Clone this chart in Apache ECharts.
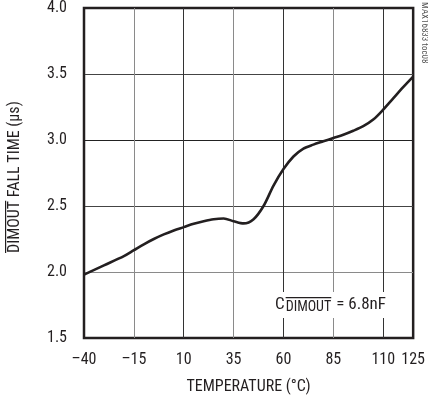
<!DOCTYPE html>
<html>
<head>
<meta charset="utf-8">
<script src="https://cdn.jsdelivr.net/npm/echarts@6/dist/echarts.min.js"></script>
<style>
html, body { margin: 0; padding: 0; background: #fff; }
#chart { width: 428px; height: 402px; }
</style>
</head>
<body>
<div id="chart"></div>
<script>
// DIMOUT fall time vs temperature
var temperature = [-40, -30, -20, -15, -10, -5, 0, 5, 10, 15, 20, 25, 30, 35, 40, 45, 50, 55, 60, 65, 70, 75, 80, 85, 90, 95, 100, 105, 110, 115, 120, 125];
var fallTimeUs = [1.98, 2.05, 2.12, 2.165, 2.21, 2.25, 2.285, 2.315, 2.34, 2.365, 2.385, 2.40, 2.405, 2.385, 2.368, 2.40, 2.50, 2.655, 2.78, 2.875, 2.935, 2.965, 2.99, 3.015, 3.04, 3.07, 3.105, 3.155, 3.23, 3.315, 3.40, 3.48];

var xColors = ['#231f20', '#8a8a8a', '#333', '#8a8a8a', '#333', '#8a8a8a', '#333', '#231f20'];
var yColors = ['#231f20', '#8a8a8a', '#444', '#222', '#444', '#231f20'];

var FONT = "'Liberation Sans Narrow', 'Roboto Condensed', 'Liberation Sans', sans-serif";
var INK = '#231f20';

function textWidth(str, size){
	var ctx = document.createElement('canvas').getContext('2d');
	ctx.font = size + 'px ' + FONT;
	return ctx.measureText(str).width;
}

var line = [];
for(var i = 0; i < temperature.length; i++){
	line.push([temperature[i], fallTimeUs[i]]);
}

var chart = echarts.init(document.getElementById('chart'));

// annotation pieces
var cX = 275, cW = textWidth('C', 17);
var subX = cX + cW + 1, subW = textWidth('DIMOUT', 14);
// y title pieces
var yTitleBottom = 253, yTitleX = 15;
var yDimW = textWidth('DIMOUT', 16);

chart.setOption({
	animation: false,
	grid: {
		left: 84, right: 12, top: 7, bottom: 64,
		show: true,
		borderColor: INK,
		borderWidth: 2.5
	},
	xAxis: {
		type: 'value',
		min: -40,
		max: 125,
		interval: 25,
		name: 'TEMPERATURE (°C)',
		nameLocation: 'middle',
		nameGap: 41,
		nameTextStyle: { fontFamily: FONT, fontSize: 16, color: INK },
		axisLine: { show: false },
		axisTick: { show: false },
		axisLabel: {
			fontFamily: FONT, fontSize: 16, color: INK, margin: 14,
			formatter: function(v){ return String(v).replace('-', '\u2013'); }
		},
		splitLine: { show: true, lineStyle: { color: xColors, width: 1 } }
	},
	yAxis: {
		type: 'value',
		min: 1.5,
		max: 4.0,
		interval: 0.5,
		axisLine: { show: false },
		axisTick: { show: false },
		axisLabel: {
			fontFamily: FONT, fontSize: 16, color: INK, margin: 17,
			formatter: function(v){ return v.toFixed(1); }
		},
		splitLine: { show: true, lineStyle: { color: yColors, width: 1 } }
	},
	series: [
		{
			type: 'line',
			data: line,
			smooth: 0.3,
			showSymbol: false,
			lineStyle: { color: INK, width: 2.6 }
		}
	],
	graphic: [
		// y axis title, reads bottom to top
		{
			type: 'text', x: yTitleX, y: yTitleBottom, rotation: Math.PI / 2, z: 100,
			style: { text: 'DIMOUT FALL TIME (µs)', fontFamily: FONT, fontSize: 16, fill: INK, align: 'left', verticalAlign: 'middle' }
		},
		{
			type: 'rect', z: 101,
			shape: { x: yTitleX - 10, y: yTitleBottom - yDimW, width: 1.2, height: yDimW },
			style: { fill: INK }
		},
		// annotation box
		{
			type: 'rect', z: 100,
			shape: { x: 270, y: 292, width: 122, height: 26 },
			style: { fill: '#fff' }
		},
		{
			type: 'text', x: cX, y: 305, z: 101,
			style: { text: 'C', fontFamily: FONT, fontSize: 17, fill: INK, align: 'left', verticalAlign: 'middle' }
		},
		{
			type: 'text', x: subX, y: 307.5, z: 101,
			style: { text: 'DIMOUT', fontFamily: FONT, fontSize: 14, fill: INK, align: 'left', verticalAlign: 'middle' }
		},
		{
			type: 'rect', z: 101,
			shape: { x: subX, y: 297, width: subW, height: 1.2 },
			style: { fill: INK }
		},
		{
			type: 'text', x: 386, y: 305, z: 101,
			style: { text: '= 6.8nF', fontFamily: FONT, fontSize: 17, fill: INK, align: 'right', verticalAlign: 'middle' }
		},
		// figure id at the right edge
		{
			type: 'text', x: 424, y: 2, rotation: -Math.PI / 2, z: 100,
			style: { text: 'MAX16833 toc08', fontFamily: FONT, fontSize: 9, fill: '#555', align: 'left', verticalAlign: 'middle' }
		}
	]
});
</script>
</body>
</html>
